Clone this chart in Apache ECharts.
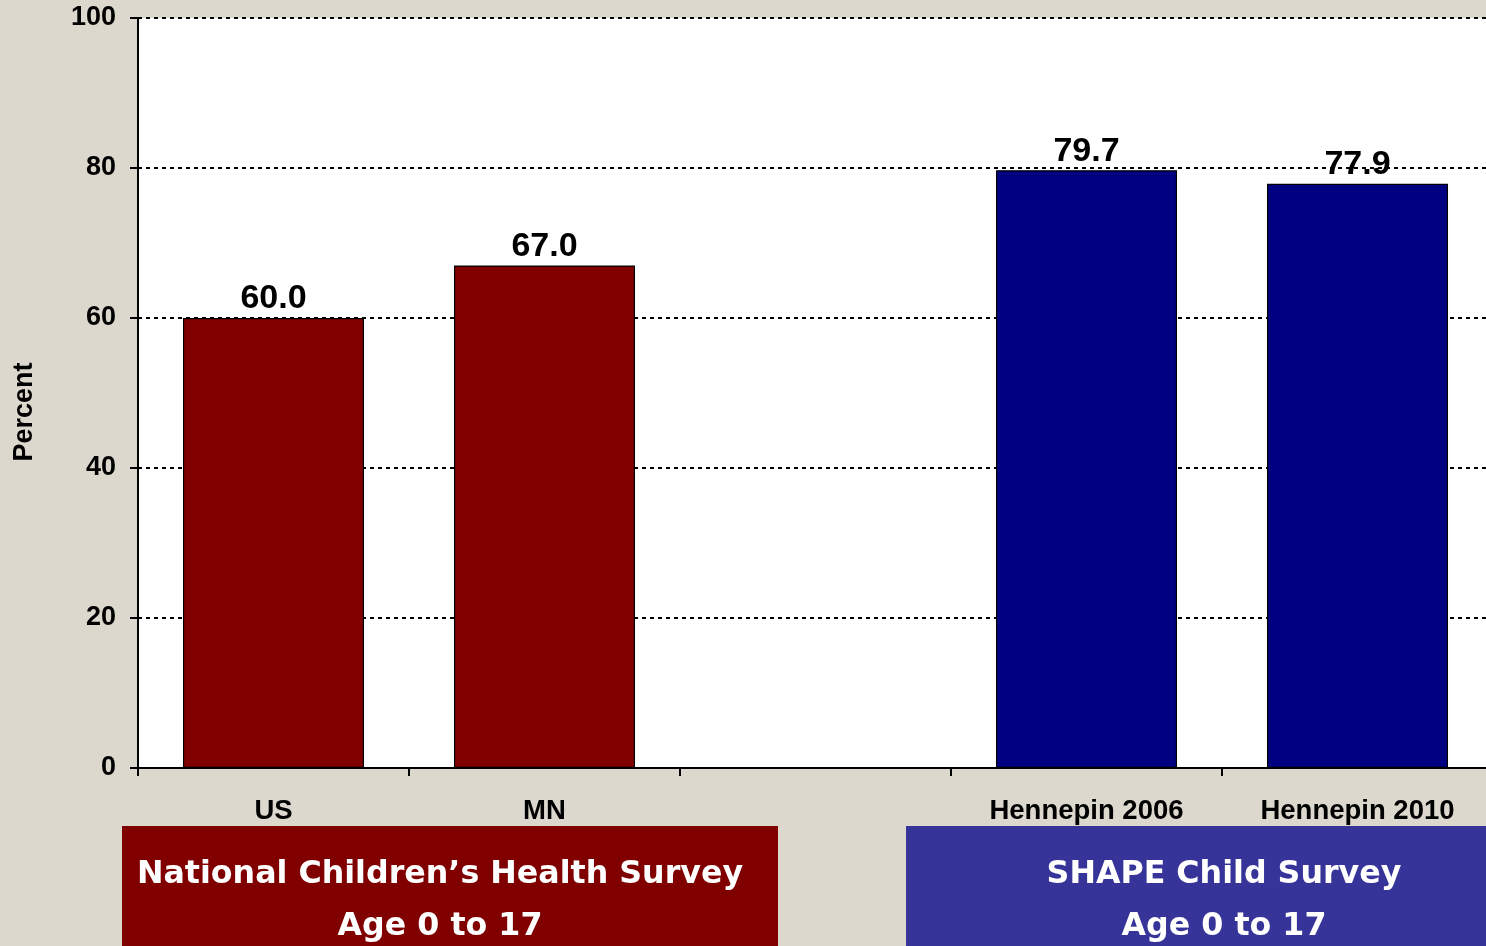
<!DOCTYPE html>
<html>
<head>
<meta charset="utf-8">
<title>Percent by survey</title>
<script src="https://cdn.jsdelivr.net/npm/echarts@6/dist/echarts.min.js"></script>
<style>
  html, body { margin: 0; padding: 0; background: #DCD8CE; overflow: hidden; }
  #chart { width: 1486px; height: 946px; }
</style>
</head>
<body>
<div id="chart"></div>
<script>
// Categories along the x axis (the blank one separates the two surveys)
const categories = ['US', 'MN', '', 'Hennepin 2006', 'Hennepin 2010'];
// Percent for each category
const percentValues = [60.0, 67.0, null, 79.7, 77.9];
// Which survey each category belongs to
const surveyOfCategory = ['national', 'national', null, 'shape', 'shape'];
// Y axis range and step
const yTicks = { min: 0, max: 100, interval: 20 };
// Survey captions shown under the axis
const nationalCaption = ['National Children\u2019s Health Survey', 'Age 0 to 17'];
const shapeCaption = ['SHAPE Child Survey', 'Age 0 to 17'];

const surveyColors = { national: '#800000', shape: '#000080' };

const chart = echarts.init(document.getElementById('chart'));

const boxTextStyle = {
  fill: '#FFFFFF',
  fontFamily: 'DejaVu Sans',
  fontWeight: 'bold',
  fontSize: 31.7,
  align: 'center',
  verticalAlign: 'middle'
};

chart.setOption({
  backgroundColor: '#DCD8CE',
  animation: false,
  grid: {
    left: 138,
    top: 18,
    bottom: 178,
    width: 1355,
    outerBoundsMode: 'none',
    containLabel: false,
    show: true,
    backgroundColor: '#FFFFFF',
    borderWidth: 0
  },
  xAxis: {
    type: 'category',
    data: categories,
    axisLine: { lineStyle: { color: '#000000', width: 2 } },
    axisTick: { show: true, alignWithLabel: false, length: 8, lineStyle: { color: '#000000', width: 2 } },
    axisLabel: {
      interval: 0,
      margin: 29,
      color: '#000000',
      fontFamily: 'Liberation Sans',
      fontWeight: 'bold',
      fontSize: 27.5
    },
    splitLine: { show: false }
  },
  yAxis: {
    type: 'value',
    min: yTicks.min,
    max: yTicks.max,
    interval: yTicks.interval,
    axisLine: { show: true, lineStyle: { color: '#000000', width: 2 } },
    axisTick: { show: true, inside: false, length: 8, lineStyle: { color: '#000000', width: 2 } },
    axisLabel: {
      margin: 22,
      color: '#000000',
      fontFamily: 'Liberation Sans',
      fontWeight: 'bold',
      fontSize: 27
    },
    splitLine: {
      show: true,
      lineStyle: { color: '#000000', width: 2, type: [4, 4] }
    }
  },
  series: [{
    type: 'bar',
    data: percentValues,
    barWidth: '66.8%',
    itemStyle: {
      color: (p) => surveyColors[surveyOfCategory[p.dataIndex]] || '#000000',
      borderColor: '#000000',
      borderWidth: 1.2
    },
    label: {
      show: true,
      position: 'top',
      distance: 2,
      formatter: (p) => p.value == null ? '' : Number(p.value).toFixed(1),
      color: '#000000',
      fontFamily: 'Liberation Sans',
      fontWeight: 'bold',
      fontSize: 34
    }
  }],
  graphic: [
    {
      type: 'text', x: 25, y: 412, rotation: Math.PI / 2, z: 11,
      style: {
        text: 'Percent',
        fill: '#000000',
        fontFamily: 'Liberation Sans',
        fontWeight: 'bold',
        fontSize: 27,
        align: 'center',
        verticalAlign: 'middle'
      }
    },
    {
      type: 'rect', left: 122, top: 826, z: 10,
      shape: { width: 656, height: 130 },
      style: { fill: '#800000' }
    },
    {
      type: 'text', x: 440, y: 875, z: 11,
      style: Object.assign({ text: nationalCaption[0] }, boxTextStyle)
    },
    {
      type: 'text', x: 440, y: 927, z: 11,
      style: Object.assign({ text: nationalCaption[1] }, boxTextStyle)
    },
    {
      type: 'rect', left: 906, top: 826, z: 10,
      shape: { width: 640, height: 130 },
      style: { fill: '#363399' }
    },
    {
      type: 'text', x: 1224, y: 875, z: 11,
      style: Object.assign({ text: shapeCaption[0] }, boxTextStyle)
    },
    {
      type: 'text', x: 1224, y: 927, z: 11,
      style: Object.assign({ text: shapeCaption[1] }, boxTextStyle)
    }
  ]
});
</script>
</body>
</html>
